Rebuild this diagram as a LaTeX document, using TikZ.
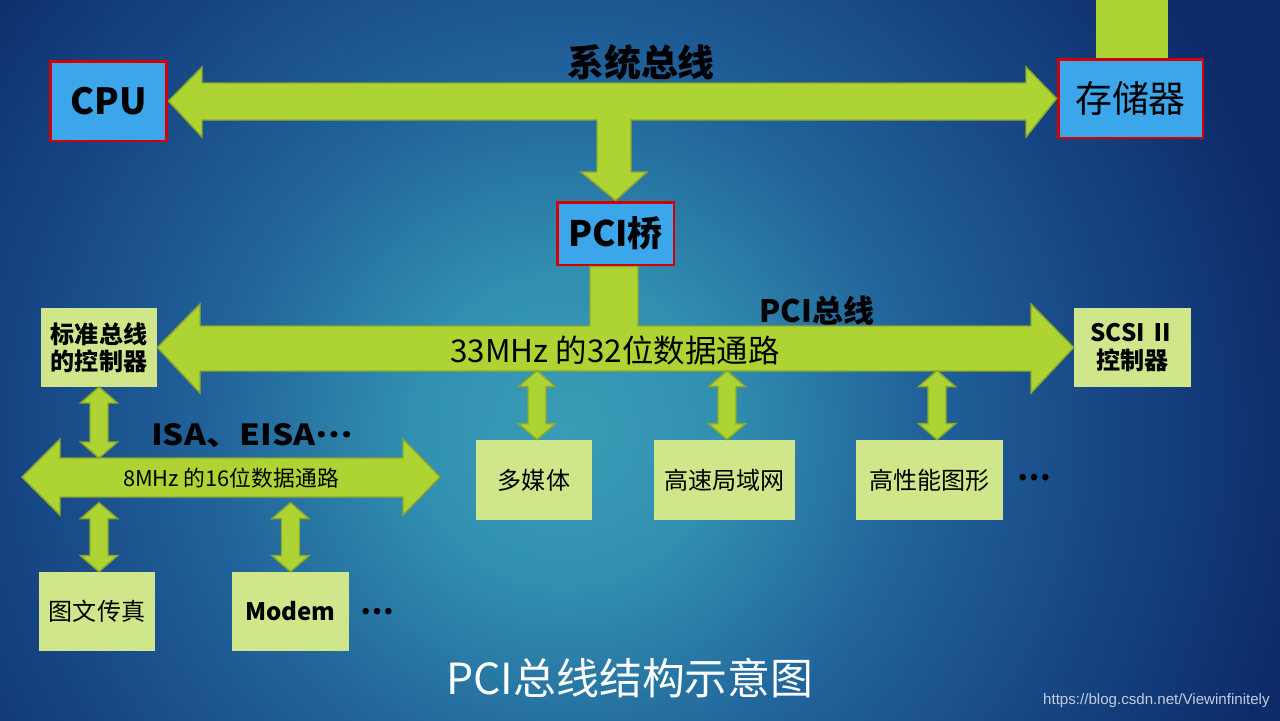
\documentclass[tikz,border=0pt]{standalone}
\usepackage{fontspec}
\setmainfont{Liberation Sans}
\newfontfamily\cjk{Noto Sans CJK SC}
\usetikzlibrary{calc}
\definecolor{bgin}{HTML}{3A9CB6}
\definecolor{bgin2}{HTML}{3190B0}
\definecolor{bgmid}{HTML}{21639A}
\definecolor{bgmid2}{HTML}{174684}
\definecolor{bgout}{HTML}{0D2A69}
\definecolor{fatfill}{HTML}{ADD432}
\definecolor{fatdraw}{HTML}{8CA82A}
\definecolor{boxblue}{HTML}{3BA6E9}
\definecolor{boxred}{HTML}{D40000}
\definecolor{lgreen}{HTML}{D0E68B}
\definecolor{wmgray}{HTML}{C4CCDA}
\pgfdeclareradialshading{bgshade}{\pgfpoint{0bp}{0bp}}{color(0bp)=(bgin); color(4.7bp)=(bgin2); color(11bp)=(bgmid); color(17bp)=(bgmid2); color(23.4bp)=(bgout); color(50bp)=(bgout)}
\tikzset{
  fat/.style={fill=fatfill, draw=fatdraw, line width=0.8pt, line join=miter},
  mainbox/.style={draw=boxred, line width=1.7pt, fill=boxblue, inner sep=0pt, font=\cjk},
  devbox/.style={fill=lgreen, inner sep=0pt, font=\cjk\fontsize{13.7}{15.4}\selectfont, align=center},
  lbl/.style={inner sep=0pt, font=\cjk\bfseries}
}
\newcommand{\vdarr}[2]{\draw[fat] #1 -- ++(18.5,-16) -- ++(-9.5,0) -- ++(0,-#2) -- ++(9.5,0) -- ++(-18.5,-16) -- ++(-18.5,16) -- ++(9.5,0) -- ++(0,#2) -- ++(-9.5,0) -- cycle;}
\begin{document}
\begin{tikzpicture}[x=0.02cm, y=-0.02cm]
\useasboundingbox (0,0) rectangle (1280,720);
% background
\fill[bgout] (0,0) rectangle (1280,720);
\begin{scope}
\clip (0,0) rectangle (1280,720);
\shade[shading=bgshade] (565,430) circle (800);
\end{scope}

% nodes
\node[mainbox, minimum width=2.34cm, minimum height=1.6cm, font=\cjk\bfseries\fontsize{20.5}{24}\selectfont] (cpu) at (108.5,101) {CPU};
\node[mainbox, minimum width=2.9cm, minimum height=1.58cm, font=\cjk\fontsize{21}{24}\selectfont] (mem) at (1130.5,98.5) {存储器};
\node[mainbox, minimum width=2.34cm, minimum height=1.26cm, font=\cjk\bfseries\fontsize{20}{24}\selectfont] (br) at (615.5,233.5) {PCI桥};

\node[devbox, minimum width=2.32cm, minimum height=1.58cm, font=\cjk\bfseries\fontsize{13.7}{15.4}\selectfont] (ctrl) at (99,347.5) {标准总线\\的控制器};
\node[devbox, minimum width=2.34cm, minimum height=1.58cm, font=\cjk\bfseries\fontsize{13.7}{15.4}\selectfont] (scsi) at (1132.5,347.5) {SCSI Ⅱ\\控制器};
\node[devbox, minimum width=2.32cm, minimum height=1.6cm] (mm) at (534,480) {多媒体};
\node[devbox, minimum width=2.82cm, minimum height=1.6cm] (lan) at (724.5,480) {高速局域网};
\node[devbox, minimum width=2.94cm, minimum height=1.6cm] (gfx) at (929.5,480) {高性能图形};
\node[devbox, minimum width=2.32cm, minimum height=1.58cm] (fax) at (97,611.5) {图文传真};
\node[devbox, minimum width=2.34cm, minimum height=1.58cm, font=\cjk\bfseries\fontsize{13.7}{15.4}\selectfont] (modem) at (290.5,611.5) {Modem};

% stem above storage
\fill[fatfill] (1096,0) rectangle (1168,57.5);

% system bus with branch to PCI bridge
\draw[fat] (cpu.east) -- (202,67) -- (202,83) -- (1026,83) -- (1026,67) -- (mem.west) -- (1026,137) -- (1026,120)
  -- (631,120) -- (631,172) -- (647,172) -- (br.north) -- (581,172) -- (597,172) -- (597,120)
  -- (202,120) -- (202,137) -- cycle;

% PCI bus with stem from PCI bridge
\draw[fat] (ctrl.east) -- (200,304) -- (200,326) -- (590,326) -- (br.south -| 590,0) -- (br.south -| 638,0) -- (638,326)
  -- (1031,326) -- (1031,304) -- (scsi.west) -- (1031,393) -- (1031,371) -- (200,371) -- (200,393) -- cycle;

% ISA bus
\coordinate (isaL) at (22,477);
\coordinate (isaR) at (440,477);
\draw[fat] (isaL) -- (60,439) -- (60,458) -- (403,458) -- (403,439) -- (isaR) -- (403,515) -- (403,497)
  -- (60,497) -- (60,515) -- cycle;

% vertical double arrows
\coordinate (isaTop) at (99,458);
\vdarr{(isaTop)}{39}
\vdarr{($(fax.north)+(2,0)$)}{37}
\vdarr{(modem.north)}{37}
\vdarr{($(mm.north)+(3,0)$)}{37}
\vdarr{($(lan.north)+(2.5,0)$)}{37}
\vdarr{($(gfx.north)+(7.5,0)$)}{37}

% labels
\node[lbl, font=\cjk\bfseries\fontsize{21}{24}\selectfont] (sysbus) at (641,62) {系统总线};
\node[lbl, font=\cjk\bfseries\fontsize{17.6}{20}\selectfont] (pcibus) at (817,311) {PCI总线};
\node[inner sep=0pt, font=\cjk\fontsize{17.9}{20}\selectfont] (pcitxt) at (615,350) {33MHz 的32位数据通路};
\node[lbl, font=\cjk\bfseries\fontsize{16.5}{20}\selectfont, xscale=1.15] (isalbl) at (252,436) {ISA、EISA\raisebox{0.3em}{…}};
\node[inner sep=0pt, font=\cjk\fontsize{12.4}{14}\selectfont] (isatxt) at (231,478) {8MHz 的16位数据通路};
\node[lbl, font=\cjk\bfseries\fontsize{17}{18}\selectfont] (dots1) at (377,612) {…};
\node[lbl, font=\cjk\bfseries\fontsize{17}{18}\selectfont] (dots2) at (1034,478) {…};
\node[inner sep=0pt, text=white, font=\cjk\fontsize{24.4}{28}\selectfont] (title) at (630,678) {PCI总线结构示意图};
\node[inner sep=0pt, anchor=east, text=wmgray, font=\fontsize{8.6}{10}\selectfont] (wm) at (1270,701) {https://blog.csdn.net/Viewinfinitely};
\end{tikzpicture}
\end{document}
